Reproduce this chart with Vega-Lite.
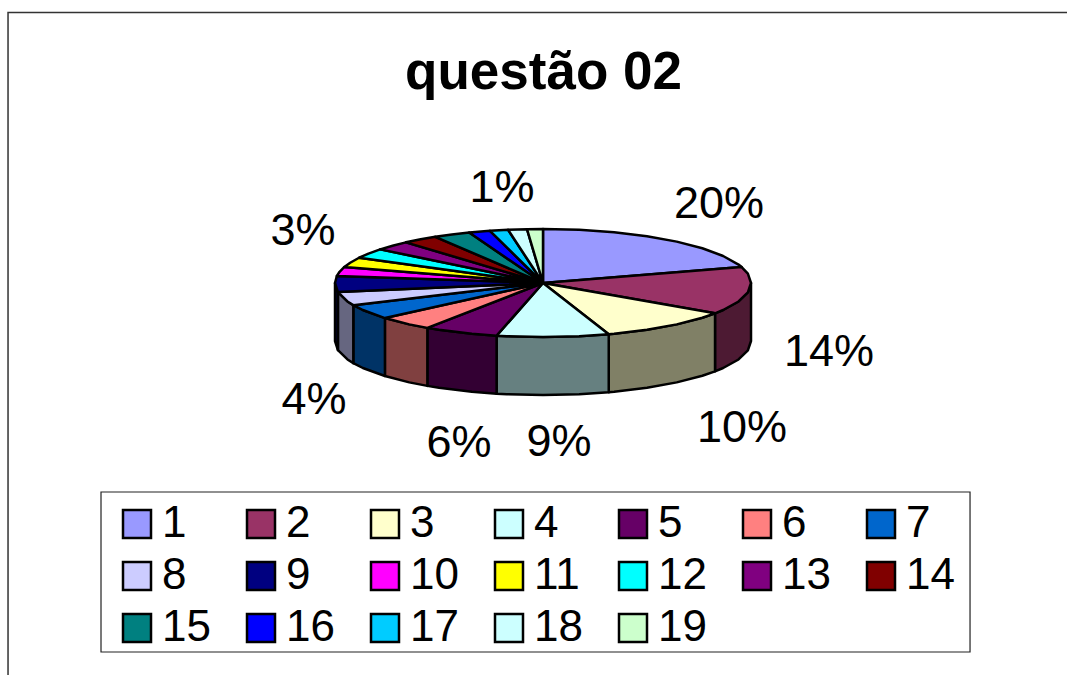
{
"$schema":"https://vega.github.io/schema/vega-lite/v6.json",
"width":1067,"height":675,"padding":0,"autosize":"none","background":"white",
"title":{"text":"questão 02","font":"Liberation Sans","fontSize":53,"fontWeight":"bold","color":"black","anchor":"middle","dx":10,"offset":-100},
"config":{"view":{"stroke":null}},
"datasets":{
"frame":[{"k":0,"u":-2.572,"v":-7.259},{"k":1,"u":-2.572,"v":5.009},{"k":2,"u":2.5192,"v":5.009}],
"box":[{"u":-2.125,"u2":2.053,"v":-3.87,"v2":-6.833}],
"side":[
{"s":2,"u":1,"v":0,"b":-1.074},{"s":2,"u":0.985,"v":-0.174,"b":-1.248},{"s":2,"u":0.94,"v":-0.342,"b":-1.416},{"s":2,"u":0.866,"v":-0.5,"b":-1.574},{"s":2,"u":0.827,"v":-0.562,"b":-1.636},
{"s":3,"u":0.827,"v":-0.562,"b":-1.636},{"s":3,"u":0.766,"v":-0.643,"b":-1.717},{"s":3,"u":0.643,"v":-0.766,"b":-1.84},{"s":3,"u":0.5,"v":-0.866,"b":-1.94},{"s":3,"u":0.342,"v":-0.94,"b":-2.014},{"s":3,"u":0.316,"v":-0.949,"b":-2.023},
{"s":4,"u":0.316,"v":-0.949,"b":-2.023},{"s":4,"u":0.174,"v":-0.985,"b":-2.059},{"s":4,"u":0,"v":-1,"b":-2.074},{"s":4,"u":-0.174,"v":-0.985,"b":-2.059},{"s":4,"u":-0.223,"v":-0.975,"b":-2.049},
{"s":5,"u":-0.223,"v":-0.975,"b":-2.049},{"s":5,"u":-0.342,"v":-0.94,"b":-2.014},{"s":5,"u":-0.5,"v":-0.866,"b":-1.94},{"s":5,"u":-0.556,"v":-0.831,"b":-1.905},
{"s":6,"u":-0.556,"v":-0.831,"b":-1.905},{"s":6,"u":-0.643,"v":-0.766,"b":-1.84},{"s":6,"u":-0.76,"v":-0.649,"b":-1.723},
{"s":7,"u":-0.76,"v":-0.649,"b":-1.723},{"s":7,"u":-0.866,"v":-0.5,"b":-1.574},{"s":7,"u":-0.912,"v":-0.41,"b":-1.484},
{"s":8,"u":-0.912,"v":-0.41,"b":-1.484},{"s":8,"u":-0.94,"v":-0.342,"b":-1.416},{"s":8,"u":-0.986,"v":-0.168,"b":-1.242},
{"s":9,"u":-0.986,"v":-0.168,"b":-1.242},{"s":9,"u":-1,"v":0,"b":-1.074}
],
"top":[
{"s":1,"k":0,"u":0,"v":0},{"s":1,"k":1,"u":0,"v":1},{"s":1,"k":2,"u":0.174,"v":0.985},{"s":1,"k":3,"u":0.342,"v":0.94},{"s":1,"k":4,"u":0.5,"v":0.866},{"s":1,"k":5,"u":0.643,"v":0.766},{"s":1,"k":6,"u":0.766,"v":0.643},{"s":1,"k":7,"u":0.866,"v":0.5},{"s":1,"k":8,"u":0.94,"v":0.342},{"s":1,"k":9,"u":0.955,"v":0.296},{"s":1,"k":10,"u":0,"v":0},
{"s":2,"k":0,"u":0,"v":0},{"s":2,"k":1,"u":0.955,"v":0.296},{"s":2,"k":2,"u":0.985,"v":0.174},{"s":2,"k":3,"u":1,"v":0},{"s":2,"k":4,"u":0.985,"v":-0.174},{"s":2,"k":5,"u":0.94,"v":-0.342},{"s":2,"k":6,"u":0.866,"v":-0.5},{"s":2,"k":7,"u":0.827,"v":-0.562},{"s":2,"k":8,"u":0,"v":0},
{"s":3,"k":0,"u":0,"v":0},{"s":3,"k":1,"u":0.827,"v":-0.562},{"s":3,"k":2,"u":0.766,"v":-0.643},{"s":3,"k":3,"u":0.643,"v":-0.766},{"s":3,"k":4,"u":0.5,"v":-0.866},{"s":3,"k":5,"u":0.342,"v":-0.94},{"s":3,"k":6,"u":0.316,"v":-0.949},{"s":3,"k":7,"u":0,"v":0},
{"s":4,"k":0,"u":0,"v":0},{"s":4,"k":1,"u":0.316,"v":-0.949},{"s":4,"k":2,"u":0.174,"v":-0.985},{"s":4,"k":3,"u":0,"v":-1},{"s":4,"k":4,"u":-0.174,"v":-0.985},{"s":4,"k":5,"u":-0.223,"v":-0.975},{"s":4,"k":6,"u":0,"v":0},
{"s":5,"k":0,"u":0,"v":0},{"s":5,"k":1,"u":-0.223,"v":-0.975},{"s":5,"k":2,"u":-0.342,"v":-0.94},{"s":5,"k":3,"u":-0.5,"v":-0.866},{"s":5,"k":4,"u":-0.556,"v":-0.831},{"s":5,"k":5,"u":0,"v":0},
{"s":6,"k":0,"u":0,"v":0},{"s":6,"k":1,"u":-0.556,"v":-0.831},{"s":6,"k":2,"u":-0.643,"v":-0.766},{"s":6,"k":3,"u":-0.76,"v":-0.649},{"s":6,"k":4,"u":0,"v":0},
{"s":7,"k":0,"u":0,"v":0},{"s":7,"k":1,"u":-0.76,"v":-0.649},{"s":7,"k":2,"u":-0.866,"v":-0.5},{"s":7,"k":3,"u":-0.912,"v":-0.41},{"s":7,"k":4,"u":0,"v":0},
{"s":8,"k":0,"u":0,"v":0},{"s":8,"k":1,"u":-0.912,"v":-0.41},{"s":8,"k":2,"u":-0.94,"v":-0.342},{"s":8,"k":3,"u":-0.986,"v":-0.168},{"s":8,"k":4,"u":0,"v":0},
{"s":9,"k":0,"u":0,"v":0},{"s":9,"k":1,"u":-0.986,"v":-0.168},{"s":9,"k":2,"u":-1,"v":0},{"s":9,"k":3,"u":-0.991,"v":0.131},{"s":9,"k":4,"u":0,"v":0},
{"s":10,"k":0,"u":0,"v":0},{"s":10,"k":1,"u":-0.991,"v":0.131},{"s":10,"k":2,"u":-0.978,"v":0.208},{"s":10,"k":3,"u":-0.955,"v":0.297},{"s":10,"k":4,"u":0,"v":0},
{"s":11,"k":0,"u":0,"v":0},{"s":11,"k":1,"u":-0.955,"v":0.297},{"s":11,"k":2,"u":-0.927,"v":0.375},{"s":11,"k":3,"u":-0.884,"v":0.468},{"s":11,"k":4,"u":0,"v":0},
{"s":12,"k":0,"u":0,"v":0},{"s":12,"k":1,"u":-0.884,"v":0.468},{"s":12,"k":2,"u":-0.839,"v":0.545},{"s":12,"k":3,"u":-0.783,"v":0.623},{"s":12,"k":4,"u":0,"v":0},
{"s":13,"k":0,"u":0,"v":0},{"s":13,"k":1,"u":-0.783,"v":0.623},{"s":13,"k":2,"u":-0.719,"v":0.695},{"s":13,"k":3,"u":-0.659,"v":0.753},{"s":13,"k":4,"u":0,"v":0},
{"s":14,"k":0,"u":0,"v":0},{"s":14,"k":1,"u":-0.659,"v":0.753},{"s":14,"k":2,"u":-0.588,"v":0.809},{"s":14,"k":3,"u":-0.518,"v":0.855},{"s":14,"k":4,"u":0,"v":0},
{"s":15,"k":0,"u":0,"v":0},{"s":15,"k":1,"u":-0.518,"v":0.855},{"s":15,"k":2,"u":-0.438,"v":0.899},{"s":15,"k":3,"u":-0.355,"v":0.935},{"s":15,"k":4,"u":0,"v":0},
{"s":16,"k":0,"u":0,"v":0},{"s":16,"k":1,"u":-0.355,"v":0.935},{"s":16,"k":2,"u":-0.255,"v":0.967},{"s":16,"k":3,"u":0,"v":0},
{"s":17,"k":0,"u":0,"v":0},{"s":17,"k":1,"u":-0.255,"v":0.967},{"s":17,"k":2,"u":-0.168,"v":0.986},{"s":17,"k":3,"u":0,"v":0},
{"s":18,"k":0,"u":0,"v":0},{"s":18,"k":1,"u":-0.168,"v":0.986},{"s":18,"k":2,"u":-0.077,"v":0.997},{"s":18,"k":3,"u":0,"v":0},
{"s":19,"k":0,"u":0,"v":0},{"s":19,"k":1,"u":-0.077,"v":0.997},{"s":19,"k":2,"u":0,"v":1},{"s":19,"k":3,"u":0,"v":0}
],
"labels":[
{"t":"20%","u":0.846,"v":1.47},{"t":"14%","u":1.375,"v":-1.271},{"t":"10%","u":0.957,"v":-2.678},{"t":"9%","u":0.077,"v":-2.937},{"t":"6%","u":-0.404,"v":-2.956},{"t":"4%","u":-1.101,"v":-2.16},{"t":"3%","u":-1.154,"v":0.97},{"t":"1%","u":-0.197,"v":1.766}
]
},
"encoding":{
"x":{"field":"u","type":"quantitative","axis":null,"scale":{"domain":[-2.6106,2.5192],"nice":false,"zero":false}},
"y":{"field":"v","type":"quantitative","axis":null,"scale":{"domain":[-7.259,5.2407],"nice":false,"zero":false}}
},
"layer":[
{"data":{"name":"frame"},"mark":{"type":"line","stroke":"#333333","strokeWidth":1.5,"clip":false},"encoding":{"order":{"field":"k"}}},
{"data":{"name":"box"},"mark":{"type":"rect","fill":"white","stroke":"#222222","strokeWidth":1.2},"encoding":{"x2":{"field":"u2"},"y2":{"field":"v2"}}},
{"data":{"name":"side"},"mark":{"type":"area","orient":"vertical","stroke":"black","strokeWidth":2.5,"strokeJoin":"round"},
"encoding":{"y2":{"field":"b"},"fill":{"field":"s","type":"ordinal","legend":null,"scale":{"domain":[2,3,4,5,6,7,8,9],"range":["#4d1a33","#808066","#668080","#330033","#804040","#003366","#666680","#000040"]}}}},
{"data":{"name":"top"},"mark":{"type":"line","stroke":"black","strokeWidth":2.5,"strokeJoin":"round"},
"encoding":{"order":{"field":"k"},"fill":{"field":"s","type":"ordinal","scale":{"domain":[1,2,3,4,5,6,7,8,9,10,11,12,13,14,15,16,17,18,19],"range":["#9999ff","#993366","#ffffcc","#ccffff","#660066","#ff8080","#0066cc","#ccccff","#000080","#ff00ff","#ffff00","#00ffff","#800080","#800000","#008080","#0000ff","#00ccff","#ccffff","#ccffcc"]},
"legend":{"title":null,"orient":"none","direction":"horizontal","legendX":115,"legendY":502,"columns":7,"gridAlign":"all","symbolType":"square","symbolSize":784,"symbolStrokeColor":"black","symbolStrokeWidth":2.5,"labelFont":"Liberation Sans","labelFontSize":44,"labelColor":"black","labelOffset":3,"columnPadding":28,"rowPadding":8,"padding":0}}}},
{"data":{"name":"labels"},"mark":{"type":"text","font":"Liberation Sans","fontSize":45,"color":"black","align":"center","baseline":"middle"},"encoding":{"text":{"field":"t"}}}
],
"resolve":{"scale":{"fill":"independent"}}
}
